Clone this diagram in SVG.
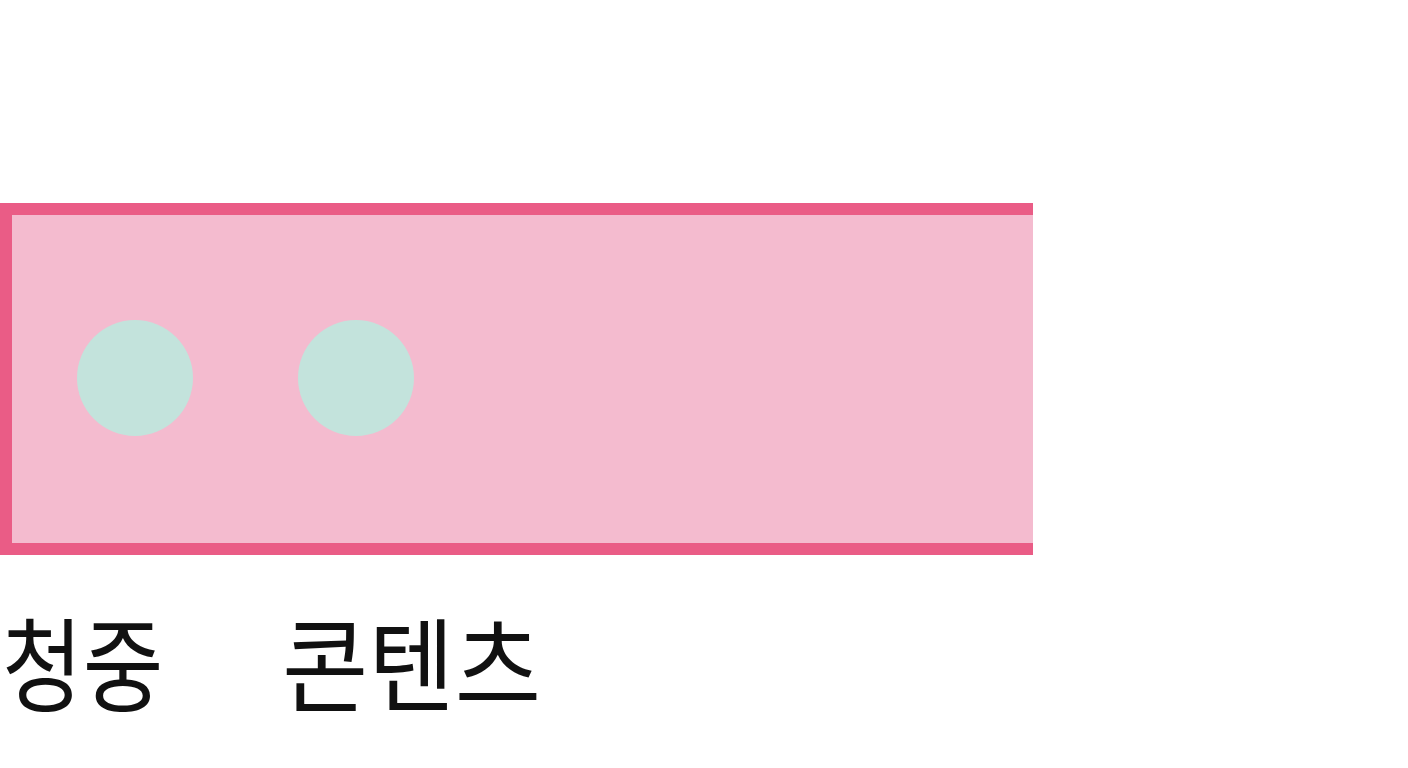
<svg xmlns="http://www.w3.org/2000/svg" width="1408" height="768" viewBox="0 0 1408 768">
<style>
.lbl{font-family:"Noto Sans CJK KR","Noto Sans",sans-serif;font-size:102px;fill:#111}
.dot{fill:#C3E3DC}
.edge{stroke:#EA5C86;stroke-width:12;fill:none}
</style>
<rect width="1408" height="768" fill="#FFFFFF"/>
<g id="band">
<rect x="0" y="203" width="1033" height="352" fill="#F4BBCF"/>
<path class="edge" d="M1033 209 H6 V549 H1033"/>
</g>
<g id="node-audience">
<circle class="dot" cx="135" cy="378" r="58"/>
<text class="lbl" transform="translate(2,704) scale(0.86,1)">청중</text>
</g>
<g id="node-content">
<circle class="dot" cx="356" cy="378" r="58"/>
<text class="lbl" transform="translate(282,704) scale(0.92,1)">콘텐츠</text>
</g>
<g id="connectors"></g>
</svg>
